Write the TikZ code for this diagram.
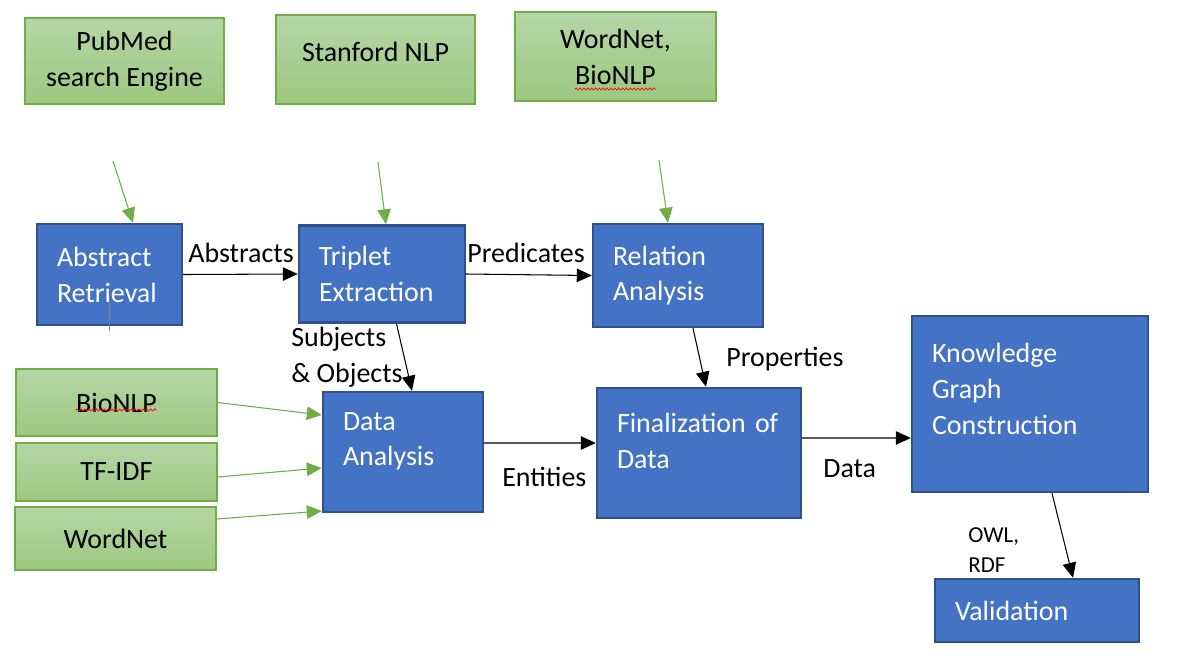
\documentclass[tikz,border=0pt]{standalone}
\usepackage{fontspec}
\setmainfont{Carlito}
\usetikzlibrary{arrows.meta,decorations.pathmorphing}
\definecolor{boxblue}{HTML}{4472C4}
\definecolor{boxedge}{HTML}{2F528F}
\definecolor{srcgreen}{HTML}{70AD47}
\definecolor{srctop}{HTML}{B5D6A6}
\definecolor{srcbottom}{HTML}{9CC87F}

\begin{document}
\begin{tikzpicture}[x=0.02cm, y=-0.02cm,
	every node/.style={font=\fontsize{15.9}{20.4}\selectfont},
	stage/.style={draw=boxedge, fill=boxblue, line width=1.4pt, text=white,
		align=left, inner xsep=0.4cm, inner ysep=0pt},
	source/.style={draw=srcgreen, line width=0.6pt, top color=srctop,
		bottom color=srcbottom, align=center, inner sep=0pt},
	flow/.style={-{Triangle[length=0.3cm,width=0.27cm]}, line width=0.6pt},
	feed/.style={flow, srcgreen},
	lbl/.style={inner sep=0pt, align=left},
	squiggle/.style={red, line width=0.4pt, decorate,
		decoration={snake, amplitude=0.6pt, segment length=2.2pt}}]

	\useasboundingbox (0,0) rectangle (1181,667);

	% tools and resources
	\node[source, minimum width=3.98cm, minimum height=1.72cm] (pubmed) at (124.5,61) {PubMed\\search Engine};
	\node[source, minimum width=3.98cm, minimum height=1.78cm] (stanford) at (375.5,59.5) {Stanford NLP\\[-11.4pt]\mbox{}};
	\node[source, minimum width=4.02cm, minimum height=1.78cm] (lexicon) at (615.5,56.5) {WordNet,\\BioNLP};
	\node[source, minimum width=4.02cm, minimum height=1.34cm] (bionlp) at (116.5,402.5) {BioNLP};
	\node[source, minimum width=4.02cm, minimum height=1.16cm] (tfidf) at (116.5,472) {TF-IDF};
	\node[source, minimum width=4.02cm, minimum height=1.26cm] (wordnet) at (115.5,538.5) {WordNet};
	\draw[squiggle] (76,410) -- (157,410);
	\draw[squiggle] (575,89) -- (656,89);

	% pipeline stages
	\node[stage, text width=2.1cm, minimum height=2.02cm] (retrieval) at (109.5,274.5) {Abstract\\Retrieval};
	\node[stage, text width=2.52cm, minimum height=1.94cm] (triplet) at (382,274) {Triplet\\Extraction};
	\node[stage, text width=2.6cm, minimum height=2.06cm] (relation) at (678,275.5) {Relation\\Analysis};
	\node[stage, text width=2.4cm, minimum height=2.4cm] (analysis) at (403,452) {Data\\Analysis\\[-5.6pt]\mbox{}};
	\node[stage, text width=3.28cm, minimum height=2.6cm] (final) at (699,453) {Finalization of\\Data\\[-6.8pt]\mbox{}};
	\node[stage, text width=3.92cm, minimum height=3.52cm] (kg) at (1030,404) {Knowledge\\Graph\\Construction\\[-3.4pt]\mbox{}};
	\node[stage, text width=3.28cm, minimum height=1.26cm] (valid) at (1037,610.5) {Validation};
	\draw[gray, line width=0.5pt] (109,297) -- (109,331);

	% data flow
	\draw[flow] (retrieval.east) -- (triplet.west);
	\draw[flow] (triplet.east) -- (relation.west);
	\draw[flow] ([xshift=0.29cm]triplet.south) -- ([xshift=0.18cm]analysis.north);
	\draw[flow] ([xshift=0.3cm]relation.south) -- ([xshift=0.14cm]final.north);
	\draw[flow] ([yshift=0.18cm]analysis.east) -- ([yshift=0.2cm]final.west);
	\draw[flow] ([yshift=0.3cm]final.east) -- ([yshift=-0.68cm]kg.west);
	\draw[flow] ([xshift=0.44cm]kg.south) -- ([xshift=0.72cm]valid.north);

	% inputs from the resources
	\coordinate (pubfeed) at (113,161);
	\coordinate (nlpfeed) at (378,162);
	\coordinate (lexfeed) at (659,160);
	\draw[feed] (pubfeed) -- ([xshift=0.47cm]retrieval.north);
	\draw[feed] (nlpfeed) -- ([xshift=0.08cm]triplet.north);
	\draw[feed] (lexfeed) -- ([xshift=-0.2cm]relation.north);
	\draw[feed] (bionlp.east) -- ([yshift=0.74cm]analysis.west);
	\draw[feed] ([yshift=-0.1cm]tfidf.east) -- ([yshift=-0.32cm]analysis.west);
	\draw[feed] ([yshift=0.39cm]wordnet.east) -- ([yshift=-1.18cm]analysis.west);

	% edge labels
	\node[lbl, anchor=base west] (abstracts) at (188,262) {Abstracts};
	\node[lbl, anchor=base west] (predicates) at (467,262) {Predicates};
	\node[lbl, anchor=west] (subjobj) at (291,357) {Subjects\\\& Objects};
	\node[lbl, anchor=base west] (props) at (726,366) {Properties};
	\node[lbl, anchor=base west] (entities) at (502,486) {Entities};
	\node[lbl, anchor=base west] (datalbl) at (823,477) {Data};
	\node[lbl, anchor=west, font=\fontsize{13}{17}\selectfont] (formats) at (968,550) {OWL,\\RDF};
\end{tikzpicture}
\end{document}
